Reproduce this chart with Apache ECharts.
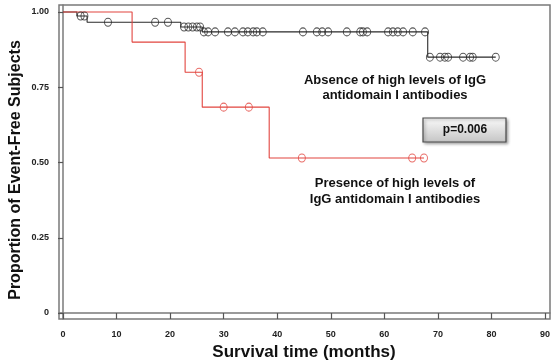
<!DOCTYPE html>
<html><head><meta charset="utf-8">
<script src="https://cdn.jsdelivr.net/npm/echarts@6/dist/echarts.min.js"></script>
<style>html,body{margin:0;padding:0;background:#fff}#c{width:554px;height:363px}</style>
</head><body><div id="c"></div>
<script>
// Red curve: presence of high levels of IgG antidomain I antibodies
const redStepTimes = [0, 12.9, 22.8, 26.0, 38.5];
const redStepValues = [1.0, 0.90, 0.80, 0.684, 0.515];
const redEndTime = 67.4;
const redCensorTimes = [25.4, 30.0, 34.7, 44.6, 65.2, 67.4];

// Black curve: absence
const blackStepTimes = [0, 2.6, 4.5, 22.0, 26.0, 68.1];
const blackStepValues = [1.0, 0.987, 0.966, 0.950, 0.934, 0.850];
const blackEndTime = 80.8;
const blackCensorTimes = [3.3, 4.0, 8.4, 17.2, 19.6, 22.6, 23.4, 24.2, 25.0, 25.6,
  26.3, 27.1, 28.4, 30.8, 32.1, 33.6, 34.5, 35.5, 36.2, 37.3, 44.8, 47.4, 48.4, 49.5,
  53.0, 55.5, 56.0, 56.8, 60.7, 61.6, 62.5, 63.5, 65.3, 67.6, 68.5, 70.4, 71.3, 71.9,
  74.7, 76.0, 76.5, 80.8];

const xTicks = [0, 10, 20, 30, 40, 50, 60, 70, 80, 90];
const yTicks = [0, 0.25, 0.5, 0.75, 1.0];
const yTickLabels = ['0', '0.25', '0.50', '0.75', '1.00'];

function stepData(times, vals, end) {
  const d = times.map((t, i) => [t, vals[i]]);
  d.push([end, vals[vals.length - 1]]);
  return d;
}
function survAt(times, vals, t) {
  let v = vals[0];
  for (let i = 0; i < times.length; i++) if (times[i] <= t) v = vals[i];
  return v;
}
function censorData(ct, times, vals) {
  return ct.map(t => [t, survAt(times, vals, t)]);
}

const RED = '#e2453f', BLACK = '#2a2a2a';
const chart = echarts.init(document.getElementById('c'), null, {renderer: 'canvas'});
chart.setOption({
  animation: false,
  grid: {left: 59, top: 5, width: 491, height: 314, show: true, borderColor: '#7a7a7a', borderWidth: 1.5, backgroundColor: '#fff'},
  xAxis: {
    type: 'value', min: -0.747, max: 90.93,
    axisLine: {show: true, lineStyle: {color: '#7a7a7a', width: 1.5}},
    axisTick: {show: true, customValues: xTicks, length: 6, lineStyle: {color: '#555', width: 1.2}},
    axisLabel: {customValues: xTicks, margin: 11, fontSize: 9, fontWeight: 'bold', color: '#222', fontFamily: 'Liberation Sans, Arial'},
    splitLine: {show: false}
  },
  yAxis: {
    type: 'value', min: -0.0199, max: 1.0233,
    axisLine: {show: true, lineStyle: {color: '#7a7a7a', width: 1.5}},
    axisTick: {show: true, customValues: yTicks, length: 5, lineStyle: {color: '#555', width: 1.2}},
    axisLabel: {customValues: yTicks, margin: 10, fontSize: 9, fontWeight: 'bold', color: '#222', fontFamily: 'Liberation Sans, Arial',
      formatter: v => { const i = yTicks.findIndex(t => Math.abs(t - v) < 1e-6); return i >= 0 ? yTickLabels[i] : ''; }},
    splitLine: {show: false}
  },
  series: [
    {type: 'line', step: 'end', data: stepData(blackStepTimes, blackStepValues, blackEndTime), symbol: 'none',
      lineStyle: {color: BLACK, width: 1.1}, z: 2},
    {type: 'line', step: 'end', data: stepData(redStepTimes, redStepValues, redEndTime), symbol: 'none',
      lineStyle: {color: RED, width: 1.1}, z: 3},
    {type: 'scatter', data: censorData(blackCensorTimes, blackStepTimes, blackStepValues), symbol: 'circle', symbolSize: [7, 8],
      itemStyle: {color: 'rgba(0,0,0,0)', borderColor: BLACK, borderWidth: 1}, z: 4},
    {type: 'scatter', data: censorData(redCensorTimes, redStepTimes, redStepValues), symbol: 'circle', symbolSize: [7, 8],
      itemStyle: {color: 'rgba(0,0,0,0)', borderColor: RED, borderWidth: 1}, z: 5}
  ],
  graphic: [
    {type: 'text', x: 395, y: 88, style: {text: 'Absence of high levels of IgG\nantidomain I antibodies', font: 'bold 13px "Liberation Sans", Arial', fill: '#111', align: 'center', verticalAlign: 'middle', lineHeight: 15}},
    {type: 'rect', shape: {x: 423, y: 118, width: 83, height: 24}, style: {
      fill: new echarts.graphic.LinearGradient(0, 0, 0, 1, [{offset: 0, color: '#fbfbfb'}, {offset: 1, color: '#c4c4c4'}]),
      stroke: '#4a4a4a', lineWidth: 1.2, shadowBlur: 3, shadowOffsetX: 1.5, shadowOffsetY: 1.5, shadowColor: 'rgba(0,0,0,0.35)'}},
    {type: 'text', x: 465, y: 130, style: {text: 'p=0.006', font: 'bold 12px "Liberation Sans", Arial', fill: '#111', align: 'center', verticalAlign: 'middle'}},
    {type: 'text', x: 395, y: 191, style: {text: 'Presence of high levels of\nIgG antidomain I antibodies', font: 'bold 13px "Liberation Sans", Arial', fill: '#111', align: 'center', verticalAlign: 'middle', lineHeight: 16}},
    {type: 'text', x: 304, y: 352, style: {text: 'Survival time (months)', font: 'bold 17px "Liberation Sans", Arial', fill: '#111', align: 'center', verticalAlign: 'middle'}},
    {type: 'text', x: 16, y: 170, rotation: Math.PI / 2, style: {text: 'Proportion of Event-Free Subjects', font: 'bold 16px "Liberation Sans", Arial', fill: '#111', align: 'center', verticalAlign: 'middle'}}
  ]
});
</script></body></html>
